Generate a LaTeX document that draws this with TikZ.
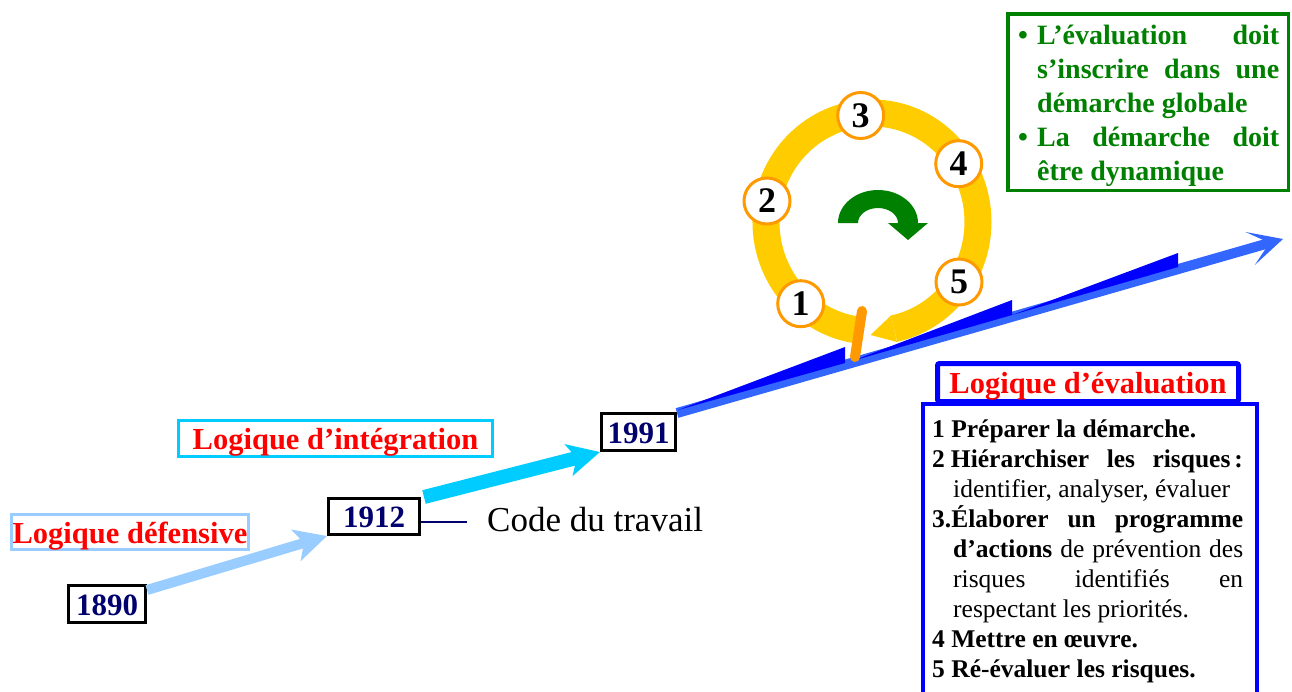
\documentclass[tikz,border=0pt]{standalone}
\usepackage{fontspec}
\setmainfont{Liberation Serif}
\usetikzlibrary{arrows.meta}
\definecolor{navyC}{RGB}{0,0,110}
\definecolor{redC}{RGB}{255,0,0}
\definecolor{paleblueC}{RGB}{153,204,255}
\definecolor{cyanC}{RGB}{0,204,255}
\definecolor{royalC}{RGB}{51,102,255}
\definecolor{blueC}{RGB}{0,0,255}
\definecolor{yellowC}{RGB}{255,204,0}
\definecolor{orangeC}{RGB}{255,153,0}
\definecolor{greenC}{RGB}{0,128,0}
\begin{document}
\begin{tikzpicture}[x=1pt,y=-1pt,
  yearbox/.style={draw=black, line width=3pt, fill=white, text=navyC,
    font=\bfseries\fontsize{31}{36}\selectfont, inner sep=0pt,
    text height=22pt, text depth=0pt, minimum height=37pt},
  logicbox/.style={fill=white, text=redC, font=\bfseries\fontsize{30.5}{36}\selectfont,
    inner sep=0pt, text height=22pt, text depth=0pt, line width=3pt},
  numdisc/.style={circle, draw=orangeC, line width=3pt, fill=white, minimum size=46pt,
    inner sep=0pt, font=\bfseries\fontsize{36}{40}\selectfont},
  evline/.style={anchor=base west, inner sep=0pt, font=\fontsize{25.5}{30}\selectfont},
  gline/.style={anchor=base west, inner sep=0pt, text=greenC,
    font=\bfseries\fontsize{28}{34}\selectfont},
  timeline/.style={line width=#1, -{Stealth[length=32pt, width=32pt, inset=8pt]}},
]
\useasboundingbox (0,0) rectangle (1292,691);
\fill[white] (0,0) rectangle (1292,691);

% ---- year boxes and logic labels
\node[yearbox, minimum width=77pt] (n1890) at (107,604) {1890};
\node[yearbox, minimum width=91pt, minimum height=36pt] (n1912) at (374,516.5) {1912};
\node[yearbox, minimum width=74pt] (n1991) at (638.5,432) {1991};
\node[logicbox, draw=paleblueC, minimum width=237pt, minimum height=35pt] (ldef) at (130,532) {Logique défensive};
\node[logicbox, draw=cyanC, minimum width=314pt, minimum height=36pt] (lint) at (335.5,438.5) {Logique d’intégration};

% ---- timeline arrows
\draw[paleblueC, timeline=10pt] ([yshift=-6pt]n1890.north east) -- (n1912.south west);
\draw[cyanC, timeline=14pt] ([xshift=3pt]n1912.north east) -- (n1991.south west);

% ---- Code du travail
\coordinate (codeY) at (0,522);
\node[anchor=base west, inner sep=0pt, font=\fontsize{35}{40}\selectfont] (code) at (487,531) {Code du travail};
\draw[navyC, line width=2pt, shorten >=20pt] (n1912.east |- codeY) -- (code.west |- codeY);

% ---- cycle ring
\draw[yellowC, line width=27pt] (860.9,330.4) arc[start angle=96, end angle=438, x radius=106, y radius=109];
\fill[yellowC] (897,342) -- (870.5,335) -- (891,315.5) -- cycle;

% ---- rotation arrow in the middle
\fill[greenC] (838,223) arc[start angle=180, end angle=360, x radius=40, y radius=33]
  -- (928,223) -- (908,240) -- (888,223) -- (898,223)
  arc[start angle=0, end angle=-180, x radius=20, y radius=15] -- cycle;

% ---- main rising arrow with its steps
\coordinate (bluetip) at (1283,239);
\draw[royalC, line width=10pt, -{Stealth[length=34pt, width=34pt, inset=20pt]}] ([yshift=-1pt]n1991.north east) -- (bluetip);
\fill[blueC] (678,410) -- (845,347) -- (845,363) -- cycle;
\fill[blueC] (852,361) -- (1012,300) -- (1012,315) -- cycle;
\fill[blueC] (1012,315) -- (1178,253) -- (1178,267) -- cycle;

% ---- numbered steps
\node[numdisc] (c1) at (800.7,303.7) {1};
\node[numdisc] (c2) at (767,201) {2};
\node[numdisc] (c3) at (860.7,115.5) {3};
\node[numdisc] (c4) at (958.7,163.7) {4};
\node[numdisc] (c5) at (959,282) {5};

% start marker of the cycle
\draw[orangeC, line width=10pt, line cap=round] (862,311) -- (855,357);

% ---- green note
\node[draw=greenC, line width=3.5pt, minimum width=280.5pt, minimum height=176.5pt, inner sep=0pt] (gbox) at (1148,102) {};
\node[gline] (gb1) at (1018,44) {•};
\node[gline] (g1) at (1037,44) {\makebox[242pt][s]{L’évaluation doit}};
\node[gline] (g2) at (1037,78) {\makebox[242pt][s]{s’inscrire dans une}};
\node[gline] (g3) at (1037,112) {démarche globale};
\node[gline] (gb2) at (1018,146) {•};
\node[gline] (g4) at (1037,146) {\makebox[242pt][s]{La démarche doit}};
\node[gline] (g5) at (1037,180) {être dynamique};

% ---- evaluation panel
\draw[blueC, line width=4pt] (923,700) -- (923,404) -- (1257,404) -- (1257,700);
\node[logicbox, draw=blueC, line width=5pt, rounded corners=2pt, minimum width=301pt, minimum height=38pt] (leval) at (1088,382.5) {Logique d’évaluation};
\node[evline] (e1) at (932,437) {\textbf{1 Préparer la démarche.}};
\node[evline] (e2) at (932,467) {\textbf{2\kern6pt\makebox[292pt][s]{Hiérarchiser les risques\kern4pt:}}};
\node[evline] (e3) at (953,497) {identifier, analyser, évaluer};
\node[evline] (e4) at (932,527) {\makebox[311pt][s]{\textbf{3.Élaborer un programme}}};
\node[evline] (e5) at (953,557) {\makebox[290pt][s]{\textbf{d’actions} de prévention des}};
\node[evline] (e6) at (953,587) {\makebox[290pt][s]{risques identifiés en}};
\node[evline] (e7) at (953,617) {respectant les priorités.};
\node[evline] (e8) at (932,647) {\textbf{4 Mettre en œuvre.}};
\node[evline] (e9) at (932,677) {\textbf{5 Ré-évaluer les risques.}};
\end{tikzpicture}
\end{document}
